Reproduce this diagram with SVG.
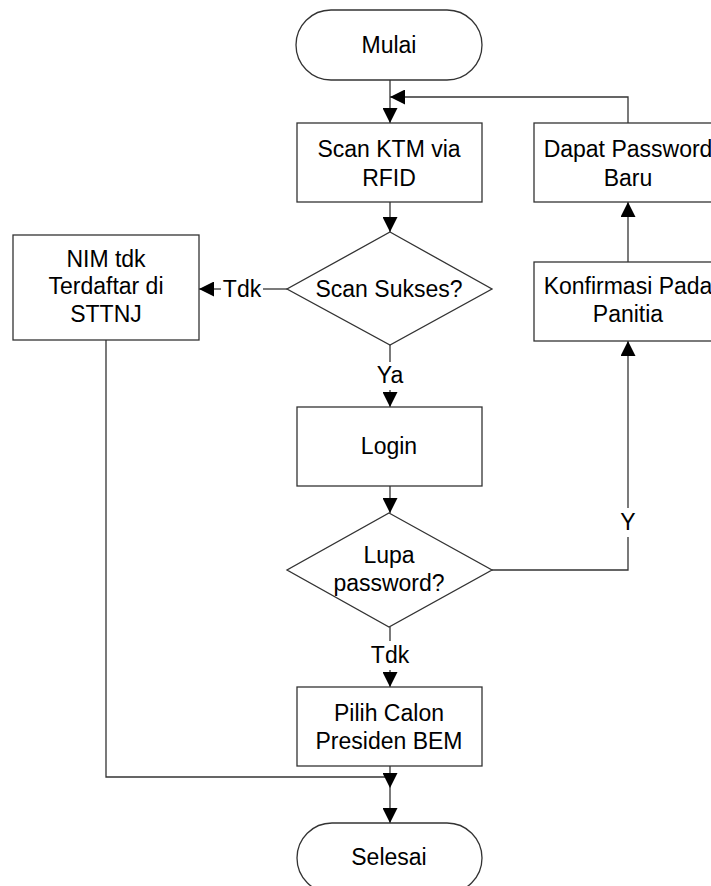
<svg xmlns="http://www.w3.org/2000/svg" width="711" height="886" viewBox="0 0 711 886">
<style>
.s{fill:#fff;stroke:#333;stroke-width:1.3}
.c{fill:none;stroke:#333;stroke-width:1.3}
text{font-family:"Liberation Sans",Arial,sans-serif;font-size:23px;fill:#000;text-anchor:middle}
</style>
<defs>
<marker id="ah" markerUnits="userSpaceOnUse" markerWidth="15" markerHeight="15" refX="15" refY="7.5" orient="auto">
<path d="M0,0 L15,7.5 L0,15 z" fill="#000"/>
</marker>
</defs>
<rect width="711" height="886" fill="#fff"/>
<g id="connectors">
<line class="c" x1="390" y1="80" x2="390" y2="123" marker-end="url(#ah)"/>
<polyline class="c" points="628,123 628,97 390,97" marker-end="url(#ah)"/>
<line class="c" x1="390" y1="202" x2="390" y2="232" marker-end="url(#ah)"/>
<line class="c" x1="287" y1="289" x2="263" y2="289"/>
<line class="c" x1="221" y1="289" x2="199" y2="289" marker-end="url(#ah)"/>
<text x="242" y="297">Tdk</text>
<line class="c" x1="390" y1="345" x2="390" y2="362"/>
<text x="390" y="383">Ya</text>
<line class="c" x1="390" y1="390" x2="390" y2="407" marker-end="url(#ah)"/>
<line class="c" x1="390" y1="486" x2="390" y2="513" marker-end="url(#ah)"/>
<polyline class="c" points="492,570 628,570 628,537"/>
<text x="628" y="530">Y</text>
<line class="c" x1="628" y1="508" x2="628" y2="341" marker-end="url(#ah)"/>
<line class="c" x1="628" y1="262" x2="628" y2="202" marker-end="url(#ah)"/>
<line class="c" x1="390" y1="627" x2="390" y2="641"/>
<text x="390" y="663">Tdk</text>
<line class="c" x1="390" y1="670" x2="390" y2="687" marker-end="url(#ah)"/>
<polyline class="c" points="106,340 106,777 390,777"/>
<line class="c" x1="390" y1="766" x2="390" y2="788" marker-end="url(#ah)"/>
<line class="c" x1="390" y1="788" x2="390" y2="823" marker-end="url(#ah)"/>
</g>
<g id="mulai">
<rect class="s" x="296" y="10" width="186" height="70" rx="35" ry="35"/>
<text x="389" y="53">Mulai</text>
</g>
<g id="scan">
<rect class="s" x="297" y="123" width="185" height="79"/>
<text x="389" y="157">Scan KTM via</text>
<text x="389" y="186">RFID</text>
</g>
<g id="dapat">
<rect class="s" x="534" y="123" width="188" height="79"/>
<text x="628" y="157">Dapat Password</text>
<text x="628" y="186">Baru</text>
</g>
<g id="scan-sukses">
<polygon class="s" points="390,232 492,289 390,345 287,289"/>
<text x="389" y="297">Scan Sukses?</text>
</g>
<g id="nim">
<rect class="s" x="13" y="235" width="186" height="105"/>
<text x="106" y="267">NIM tdk</text>
<text x="106" y="294">Terdaftar di</text>
<text x="106" y="322">STTNJ</text>
</g>
<g id="konfirmasi">
<rect class="s" x="534" y="262" width="188" height="79"/>
<text x="628" y="294">Konfirmasi Pada</text>
<text x="628" y="322">Panitia</text>
</g>
<g id="login">
<rect class="s" x="297" y="407" width="185" height="79"/>
<text x="389" y="454">Login</text>
</g>
<g id="lupa">
<polygon class="s" points="389,513 492,570 389,627 287,570"/>
<text x="389" y="563">Lupa</text>
<text x="389" y="591">password?</text>
</g>
<g id="pilih">
<rect class="s" x="297" y="687" width="185" height="79"/>
<text x="389" y="721">Pilih Calon</text>
<text x="389" y="749">Presiden BEM</text>
</g>
<g id="selesai">
<rect class="s" x="297" y="823" width="185" height="70" rx="35" ry="35"/>
<text x="389" y="865">Selesai</text>
</g>
</svg>
